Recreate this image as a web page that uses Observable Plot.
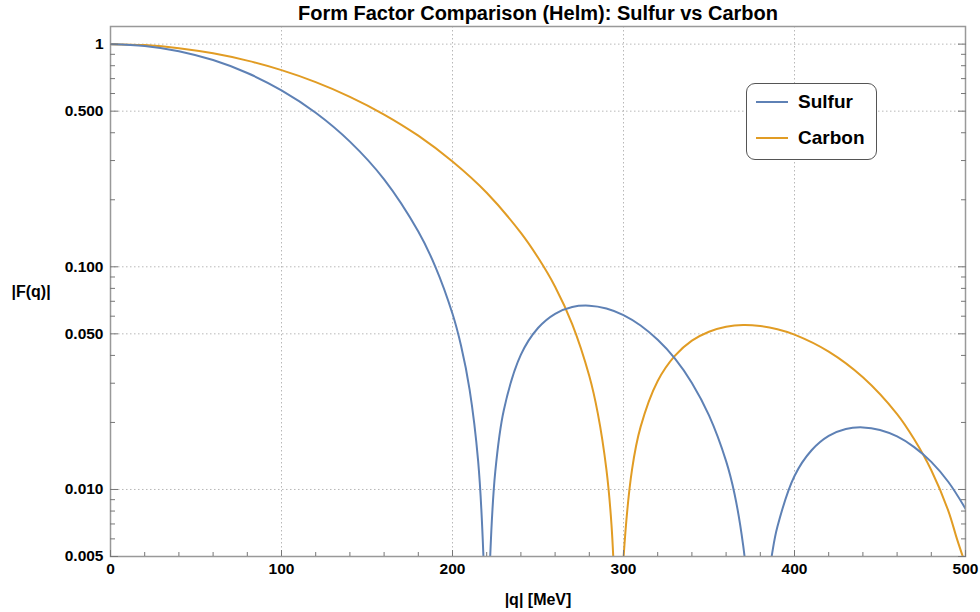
<!DOCTYPE html>
<html><head><meta charset="utf-8">
<script src="https://cdn.jsdelivr.net/npm/d3@7"></script>
<script src="https://cdn.jsdelivr.net/npm/@observablehq/plot@0.6"></script>
<style>
body{margin:0;background:#fff;font-family:"Liberation Sans",Arial,sans-serif;}
#wrap{position:relative;width:980px;height:612px;}
#legend{position:absolute;left:746px;top:83px;width:129px;height:75px;border:1.3px solid #555;border-radius:9px;background:#fff;}
.row{position:absolute;left:0;height:0;}
.sw{position:absolute;left:9px;width:32px;height:2px;margin-top:-1px;}
.lab{position:absolute;left:51px;font-weight:bold;font-size:19px;line-height:19px;margin-top:-10px;color:#000;white-space:nowrap;}
</style></head>
<body><div id="wrap"></div>
<script>
const title = "Form Factor Comparison (Helm): Sulfur vs Carbon";
const xLabel = "|q| [MeV]";
const yLabel = "|F(q)|";
const seriesNames = ["Sulfur", "Carbon"];
const seriesColors = ["#5E81B5", "#E19C24"];

// Sulfur |F(q)| (null = gap at a zero)
const sulfurQ = [0, 20, 40, 60, 80, 100, 120, 140, 160, 180, 190, 200, 205, 210, 215, 218, 219.3, null,
  220.7, 222, 225, 230, 240, 250, 260, 270, 280, 290, 300, 310, 320, 330, 340, 350, 360, 365, 370, 373, null,
  384, 387, 390, 400, 410, 420, 430, 440, 450, 460, 470, 480, 490, 500];
const sulfurF = [1.0, 0.982, 0.930, 0.848, 0.742, 0.620, 0.492, 0.365, 0.247, 0.144, 0.100, 0.0615, 0.0442, 0.0281, 0.0134, 0.0052, 0.0018, null,
  0.0017, 0.0049, 0.0120, 0.0227, 0.0403, 0.0531, 0.0615, 0.0660, 0.0669, 0.0650, 0.0607, 0.0545, 0.0470, 0.0388, 0.0301, 0.0215, 0.0134, 0.0095, 0.0056, 0.0034, null,
  0.0035, 0.0052, 0.0068, 0.0115, 0.0150, 0.0174, 0.0187, 0.0190, 0.0185, 0.0173, 0.0155, 0.0133, 0.0108, 0.0082];

// Carbon |F(q)|
const carbonQ = [0, 20, 40, 60, 80, 100, 120, 140, 160, 180, 200, 220, 240, 250, 260, 270, 280, 285, 290, 293, 295.5, null,
  298.5, 300, 305, 310, 320, 330, 340, 350, 360, 370, 380, 390, 400, 420, 440, 460, 470, 480, 490, 495, 500];
const carbonF = [1.0, 0.990, 0.959, 0.909, 0.843, 0.764, 0.675, 0.580, 0.483, 0.388, 0.297, 0.215, 0.142, 0.110, 0.0814, 0.0553, 0.0323, 0.0219, 0.0123, 0.0069, 0.0026, null,
  0.0024, 0.0049, 0.0123, 0.0191, 0.0307, 0.0398, 0.0466, 0.0511, 0.0538, 0.0548, 0.0542, 0.0524, 0.0496, 0.0416, 0.0319, 0.0218, 0.0168, 0.0122, 0.0080, 0.0060, 0.0046];

const xMajor = [0, 100, 200, 300, 400, 500];
const xMinor = [20,40,60,80,120,140,160,180,220,240,260,280,320,340,360,380,420,440,460,480];
const xGrid = [100, 200, 300, 400];
const yMajor = [0.005, 0.01, 0.05, 0.1, 0.5, 1];
const yMinor = [0.006,0.007,0.008,0.009,0.02,0.03,0.04,0.06,0.07,0.08,0.09,0.2,0.3,0.4,0.6,0.7,0.8,0.9];
const yGrid = [0.01, 0.05, 0.1, 0.5, 1];

const toRows = (Q, F, name) => Q.map((q, i) => ({q, F: F[i], name}));
const sulfur = toRows(sulfurQ, sulfurF, seriesNames[0]);
const carbon = toRows(carbonQ, carbonF, seriesNames[1]);

const font = '"Liberation Sans", Arial, sans-serif';
const frameColor = "#999";

const chart = Plot.plot({
  width: 980, height: 612,
  marginLeft: 110, marginRight: 15, marginTop: 26, marginBottom: 56,
  style: {fontFamily: font, fontSize: "15.5px", fontWeight: "bold", background: "white", color: "black", overflow: "visible"},
  x: {domain: [0, 500], label: null},
  y: {type: "log", domain: [0.005, 1.2], label: null},
  marks: [
    Plot.gridX(xGrid, {stroke: "#b8b8b8", strokeOpacity: 1, strokeDasharray: "1.5,2.5", strokeWidth: 1}),
    Plot.gridY(yGrid, {stroke: "#b8b8b8", strokeOpacity: 1, strokeDasharray: "1.5,2.5", strokeWidth: 1}),
    Plot.line(carbon, {x: "q", y: "F", stroke: seriesColors[1], strokeWidth: 2, curve: "catmull-rom", clip: true}),
    Plot.line(sulfur, {x: "q", y: "F", stroke: seriesColors[0], strokeWidth: 2, curve: "catmull-rom", clip: true}),
    Plot.frame({stroke: frameColor, strokeWidth: 1.5}),
    // inward ticks
    Plot.axisX(xMajor, {anchor: "bottom", tickSize: -6, fill: "none", label: null, stroke: "#777"}),
    Plot.axisX(xMinor, {anchor: "bottom", tickSize: -4, fill: "none", label: null, stroke: "#777"}),
    Plot.axisY(yMajor, {anchor: "left", tickSize: -8, fill: "none", label: null, stroke: "#777"}),
    Plot.axisY(yMinor, {anchor: "left", tickSize: -5, fill: "none", label: null, stroke: "#777"}),
    Plot.axisY(yMajor, {anchor: "right", tickSize: -8, fill: "none", label: null, stroke: "#777"}),
    Plot.axisY(yMinor, {anchor: "right", tickSize: -5, fill: "none", label: null, stroke: "#777"}),
    // labels
    Plot.axisX(xMajor, {anchor: "bottom", tickSize: 0, tickPadding: 6, label: null, fill: "black", fontWeight: "bold"}),
    Plot.axisY(yMajor, {anchor: "left", tickSize: 0, tickPadding: 7, label: null, fill: "black", fontWeight: "bold",
      tickFormat: d => d === 1 ? "1" : d.toFixed(3)}),
    Plot.text([title], {text: d => d, frameAnchor: "top", lineAnchor: "bottom", dy: -7, fontSize: 20, fontWeight: "bold", fill: "black"}),
    Plot.text([yLabel], {text: d => d, frameAnchor: "left", textAnchor: "start", dx: -99, fontSize: 16, fontWeight: "bold", fill: "black"}),
    Plot.text([xLabel], {text: d => d, frameAnchor: "bottom", lineAnchor: "bottom", dy: 48, fontSize: 16, fontWeight: "bold", fill: "black"})
  ]
});

const wrap = document.getElementById("wrap");
wrap.appendChild(chart);
const legend = document.createElement("div");
legend.id = "legend";
seriesNames.forEach((name, i) => {
  const row = document.createElement("div");
  row.className = "row";
  row.style.top = (18 + i * 36) + "px";
  row.innerHTML = `<div class="sw" style="background:${seriesColors[i]}"></div><div class="lab">${name}</div>`;
  legend.appendChild(row);
});
wrap.appendChild(legend);
</script>
</body></html>
